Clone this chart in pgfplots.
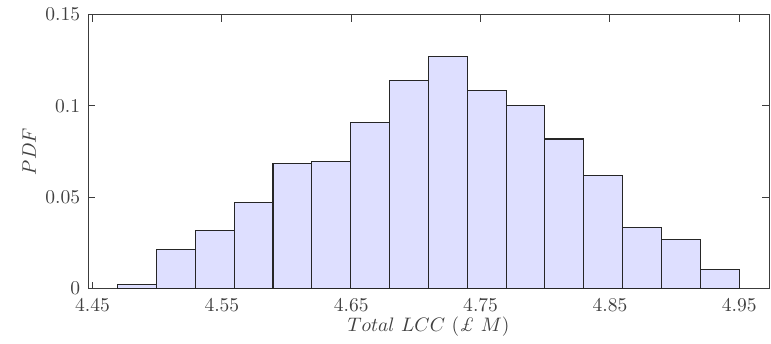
\documentclass[border=0pt]{standalone}
\usepackage{pgfplots}
\pgfplotsset{compat=1.18}
\definecolor{barfill}{RGB}{222,223,255}
\definecolor{axgray}{RGB}{60,60,60}
\begin{document}
\begin{tikzpicture}
\begin{axis}[
  name=ax,
  scale only axis,
  width=349pt, height=140.4pt,
  xmin=4.4465, xmax=4.973,
  ymin=0, ymax=0.15,
  xtick={4.45,4.55,4.65,4.75,4.85,4.95},
  ytick={0,0.05,0.1,0.15},
  xticklabels={4.45,4.55,4.65,4.75,4.85,4.95},
  yticklabels={0,0.05,0.1,0.15},
  tick align=inside,
  major tick length=3.6pt,
  axis line style={axgray, line width=0.5pt},
  every tick/.style={axgray, line width=0.5pt},
  tick label style={color=black!75},
  xticklabel style={yshift=-1.2pt},
  yticklabel style={xshift=-0.5pt},
  xlabel={$Total\ LCC\ (\textit{\pounds}\ M)$},
  ylabel={$PDF$},
  label style={color=black!75},
  xlabel style={yshift=4pt},
  ylabel style={yshift=-2pt},
]
\addplot[ybar interval, fill=barfill, draw=black!85, line width=0.55pt] coordinates {
(4.4693,0.0020)
(4.4993,0.0212)
(4.5294,0.0318)
(4.5594,0.0473)
(4.5895,0.0683)
(4.6195,0.0695)
(4.6495,0.0911)
(4.6796,0.1141)
(4.7096,0.1270)
(4.7397,0.1084)
(4.7697,0.1002)
(4.7997,0.0819)
(4.8298,0.0617)
(4.8598,0.0334)
(4.8899,0.0270)
(4.9199,0.0106)
(4.9500,0.0106)
};
\end{axis}
\path[use as bounding box] ([xshift=-45.1pt,yshift=-26.8pt]ax.south west) rectangle ([xshift=1pt,yshift=7.5pt]ax.north east);
\end{tikzpicture}
\end{document}
